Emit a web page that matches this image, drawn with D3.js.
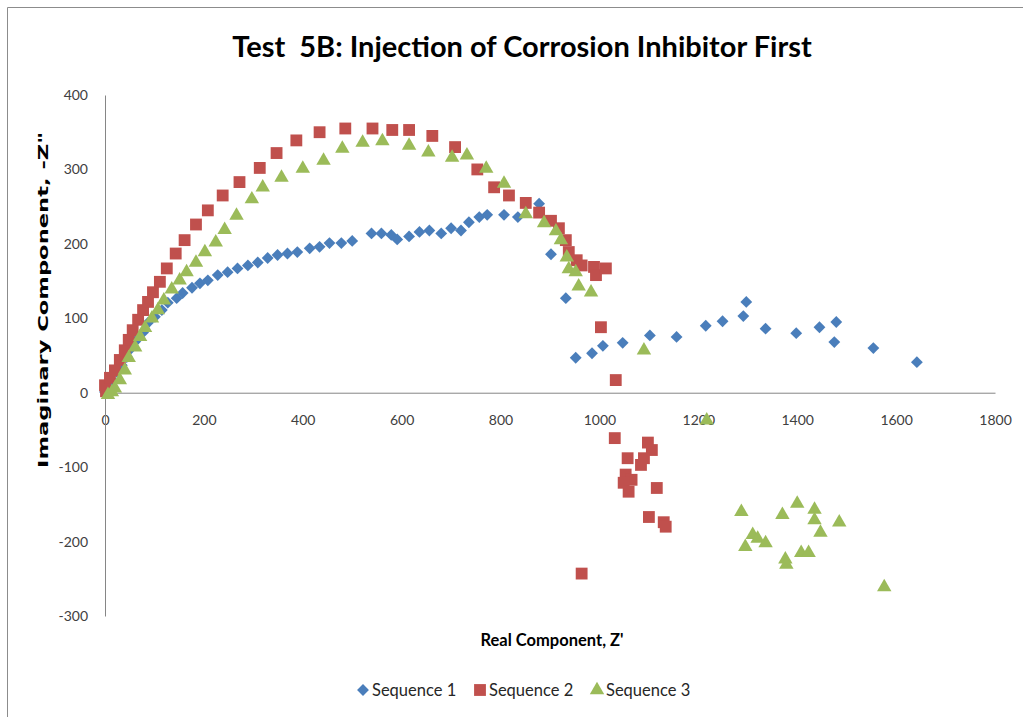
<!DOCTYPE html>
<html>
<head>
<meta charset="utf-8">
<script src="https://cdnjs.cloudflare.com/ajax/libs/d3/7.8.5/d3.min.js"></script>
<style>
  html, body { margin: 0; padding: 0; background: #fff; }
  svg { display: block; }
  .tick text { font-family: Lato, "Open Sans", sans-serif; font-size: 14px; fill: #404040; }
</style>
</head>
<body>
<div id="chart"></div>
<script>
// Nyquist data: [Z', -Z'']
const sequence1 = [
  [0, 1], [6, 8], [14, 17], [24, 28], [34, 37], [44, 48], [52, 59], [60, 68], [67, 73], [77, 81],
  [87, 94], [101, 102], [115, 111], [127, 121], [145, 127], [157, 134], [176, 141], [192, 147],
  [208, 151], [228, 158], [248, 162], [268, 167], [289, 171], [309, 175], [329, 181], [349, 185],
  [369, 187], [389, 189], [414, 194], [434, 196], [454, 201], [478, 201], [500, 204], [539, 214],
  [559, 214], [579, 212], [591, 206], [615, 210], [636, 216], [656, 218], [680, 214], [700, 221],
  [720, 218], [736, 229], [757, 236], [773, 239], [807, 239], [835, 236], [878, 254], [902, 186],
  [932, 127], [952, 47], [985, 53], [1007, 63], [1047, 67], [1102, 77], [1156, 75], [1215, 90],
  [1249, 96], [1291, 103], [1297, 122], [1336, 86], [1398, 80], [1445, 88], [1475, 68], [1479, 95],
  [1554, 60], [1642, 41]
];

const sequence2 = [
  [2, 2], [0, 10], [10, 20], [20, 30], [30, 44], [40, 57], [48, 71], [56, 84], [67, 98], [77, 111],
  [87, 122], [97, 135], [111, 149], [125, 167], [143, 187], [161, 205], [184, 226], [208, 245],
  [238, 265], [272, 283], [313, 302], [347, 322], [387, 339], [434, 350], [486, 355], [541, 355],
  [581, 353], [615, 353], [662, 345], [708, 330], [753, 300], [787, 276], [817, 265], [851, 255],
  [878, 242], [902, 231], [918, 221], [932, 205], [938, 189], [954, 178], [964, 171], [989, 169],
  [993, 158], [1013, 167], [1003, 88], [1033, 17],
  [1031, -61], [1098, -67], [1106, -77], [1057, -88], [1090, -88], [1084, -97], [1053, -110],
  [1065, -117], [1049, -121], [1116, -128], [1059, -133], [1100, -167], [1130, -174], [1134, -180],
  [964, -243]
];

const sequence3 = [
  [6, -3], [14, 1], [20, 6], [30, 17], [40, 30], [48, 47], [61, 61], [71, 75], [81, 87], [95, 100],
  [107, 111], [119, 124], [135, 139], [151, 151], [165, 162], [184, 175], [202, 189], [224, 202],
  [242, 219], [266, 238], [297, 260], [319, 276], [357, 289], [400, 301], [442, 312], [480, 328],
  [521, 336], [561, 338], [615, 332], [654, 323], [702, 316], [732, 319], [771, 301], [807, 281],
  [851, 240], [888, 228], [912, 217], [922, 205], [934, 182], [938, 166], [952, 162], [958, 143],
  [983, 135], [1090, 57], [1217, -37],
  [1287, -160], [1295, -207], [1310, -191], [1320, -196], [1336, -202], [1370, -164], [1376, -224],
  [1378, -231], [1400, -149], [1408, -215], [1423, -215], [1435, -157], [1435, -171], [1447, -188],
  [1485, -174], [1576, -261]
];

const seriesNames = ['Sequence 1', 'Sequence 2', 'Sequence 3'];
const xTicks = [0, 200, 400, 600, 800, 1000, 1200, 1400, 1600, 1800];
const yTicks = [-300, -200, -100, 0, 100, 200, 300, 400];

const title = 'Test  5B: Injection of Corrosion Inhibitor First';
const xTitle = 'Real Component, Z\'';
const yTitle = 'Imaginary Component, -Z"';

const W = 1023, H = 717;
const colors = ['#4a7ebb', '#c0504d', '#9bbb59'];
const shapes = [d3.symbolSquare, d3.symbolSquare, d3.symbolTriangle];
const sizes = [70, 140, 90];
const rotations = [45, 0, 0];

const svg = d3.select('#chart').append('svg').attr('width', W).attr('height', H);

// outer chart frame (right/bottom edges are cropped off in the reference)
svg.append('path')
  .attr('d', 'M7.5,' + H + 'V7.5H' + W)
  .attr('fill', 'none').attr('stroke', '#8c8c8c').attr('stroke-width', 1);

const x = d3.scaleLinear().domain([0, 1800]).range([105, 995]);
const y = d3.scaleLinear().domain([-300, 400]).range([616, 95]);

// plain hyphen for negatives, like the spreadsheet
const fmt = d => String(d);

// axes cross at the origin
svg.append('g')
  .attr('transform', 'translate(0,' + y(0) + ')')
  .call(d3.axisBottom(x).tickValues(xTicks).tickSize(0).tickPadding(22).tickFormat(fmt))
  .call(g => g.select('.domain').attr('stroke', '#868686'));

svg.append('g')
  .attr('transform', 'translate(' + x(0) + ',0)')
  .call(d3.axisLeft(y).tickValues(yTicks).tickSize(0).tickPadding(17).tickFormat(fmt))
  .call(g => g.select('.domain').attr('stroke', '#868686'));

// markers
[sequence1, sequence2, sequence3].forEach((data, i) => {
  const sym = d3.symbol().type(shapes[i]).size(sizes[i]);
  svg.append('g').attr('class', 'series-' + (i + 1))
    .selectAll('path')
    .data(data)
    .enter().append('path')
      .attr('d', sym)
      .attr('transform', d => 'translate(' + x(d[0]) + ',' + y(d[1]) + ') rotate(' + rotations[i] + ')')
      .attr('fill', colors[i]);
});

// titles
svg.append('text')
  .attr('x', 522).attr('y', 57)
  .attr('text-anchor', 'middle')
  .style('white-space', 'pre')
  .attr('font-family', 'Lato, "Open Sans", sans-serif')
  .attr('font-weight', 'bold').attr('font-size', 29).attr('fill', '#000')
  .text(title);

svg.append('text')
  .attr('x', 552).attr('y', 646)
  .attr('text-anchor', 'middle')
  .attr('font-family', 'Lato, "Open Sans", sans-serif')
  .attr('font-weight', 'bold').attr('font-size', 16.5).attr('fill', '#000')
  .text(xTitle);

svg.append('text')
  .attr('transform', 'translate(48,300) rotate(-90)')
  .attr('text-anchor', 'middle')
  .attr('font-family', '"DejaVu Sans", Verdana, sans-serif')
  .attr('font-weight', 'bold').attr('font-size', 13.5).attr('fill', '#000')
  .attr('textLength', 336).attr('lengthAdjust', 'spacingAndGlyphs')
  .text(yTitle);

// legend
const legendX = [363, 480, 597];
const legend = svg.append('g').attr('class', 'legend');
seriesNames.forEach((name, i) => {
  const sym = d3.symbol().type(shapes[i]).size(sizes[i]);
  legend.append('path')
    .attr('d', sym)
    .attr('transform', 'translate(' + legendX[i] + ',690) rotate(' + rotations[i] + ')')
    .attr('fill', colors[i]);
  legend.append('text')
    .attr('x', legendX[i] + 9).attr('y', 696)
    .attr('font-family', 'Lato, "Open Sans", sans-serif')
    .attr('font-size', 16.5).attr('fill', '#262626')
    .text(name);
});
</script>
</body>
</html>
